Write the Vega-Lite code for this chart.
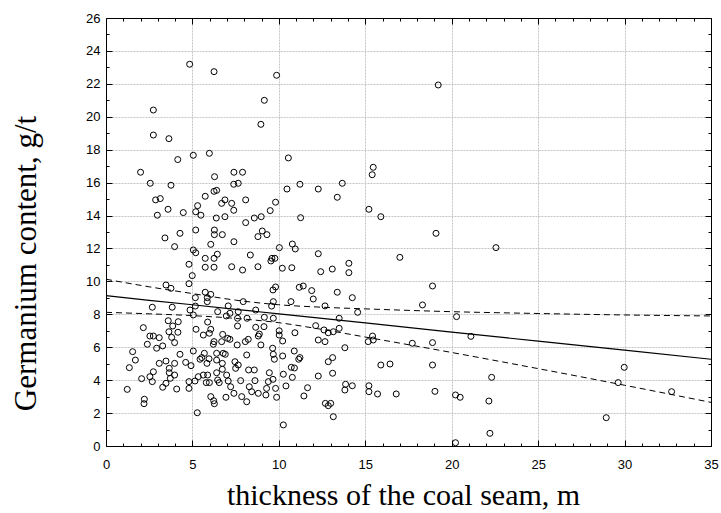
{
 "$schema": "https://vega.github.io/schema/vega-lite/v6.json",
 "width": 605,
 "height": 428,
 "autosize": {"type": "none"},
 "padding": {"left": 106, "top": 18, "right": 10, "bottom": 67},
 "background": "white",
 "config": {"view": {"stroke": null}},
 "datasets": {
  "pts": [
   {"x":4.84,"y":23.19},{"x":6.25,"y":22.74},{"x":9.87,"y":22.52},{"x":2.74,"y":20.41},{"x":9.16,"y":21.0},{"x":8.96,"y":19.54},{"x":2.74,"y":18.89},{"x":3.64,"y":18.67},{"x":4.15,"y":17.4},{"x":5.05,"y":17.66},{"x":5.98,"y":17.78},{"x":10.55,"y":17.5},{"x":19.22,"y":21.93},
   {"x":2.0,"y":16.63},{"x":2.56,"y":15.96},{"x":2.87,"y":14.95},{"x":3.14,"y":15.03},{"x":3.76,"y":15.84},{"x":3.59,"y":14.38},{"x":2.97,"y":14.02},{"x":4.47,"y":14.18},{"x":3.41,"y":12.64},{"x":4.28,"y":12.92},{"x":3.97,"y":12.11},
   {"x":6.28,"y":16.36},{"x":7.4,"y":16.63},{"x":7.9,"y":16.63},{"x":7.39,"y":15.9},{"x":7.65,"y":15.96},{"x":6.25,"y":15.47},{"x":6.4,"y":15.53},{"x":5.74,"y":15.17},{"x":6.88,"y":14.95},{"x":6.69,"y":14.74},{"x":7.27,"y":14.74},{"x":7.39,"y":14.32},{"x":8.08,"y":14.95},{"x":5.3,"y":14.6},{"x":5.19,"y":14.23},{"x":5.49,"y":14.02},{"x":6.38,"y":13.85},{"x":6.88,"y":13.93},{"x":8.08,"y":13.57},{"x":8.58,"y":13.85},{"x":8.98,"y":13.93},{"x":9.5,"y":14.3},{"x":9.81,"y":14.81},{"x":10.47,"y":15.61},
   {"x":5.19,"y":13.12},{"x":6.27,"y":13.12},{"x":6.27,"y":12.84},{"x":6.73,"y":12.84},{"x":6.06,"y":12.25},{"x":7.4,"y":12.41},{"x":8.79,"y":12.72},{"x":9.04,"y":13.06},{"x":9.31,"y":12.84},{"x":10.03,"y":12.05},
   {"x":5.05,"y":11.91},{"x":5.19,"y":11.74},{"x":4.8,"y":11.04},{"x":4.99,"y":10.35},{"x":4.8,"y":9.86},{"x":5.74,"y":11.4},{"x":5.74,"y":10.86},{"x":6.25,"y":11.4},{"x":6.44,"y":11.65},{"x":6.25,"y":10.86},{"x":7.27,"y":10.89},{"x":7.9,"y":10.69},{"x":8.35,"y":11.6},{"x":8.79,"y":10.89},{"x":9.6,"y":11.4},{"x":9.77,"y":11.4},{"x":9.54,"y":11.24},{"x":10.2,"y":10.8},
   {"x":3.47,"y":9.78},{"x":3.76,"y":9.58},{"x":5.74,"y":9.34},{"x":6.06,"y":9.21},{"x":5.86,"y":9.01},{"x":5.17,"y":9.01},{"x":7.94,"y":8.77},{"x":9.81,"y":9.66},{"x":9.66,"y":9.48},{"x":9.68,"y":8.77},{"x":10.7,"y":8.77},
   {"x":2.68,"y":8.43},{"x":3.83,"y":8.43},{"x":4.86,"y":8.26},{"x":5.05,"y":7.96},{"x":5.17,"y":8.5},{"x":5.21,"y":7.09},{"x":6.46,"y":8.16},{"x":6.96,"y":7.9},{"x":7.07,"y":8.51},{"x":7.65,"y":8.16},{"x":7.61,"y":7.76},{"x":7.61,"y":7.29},{"x":7.17,"y":8.06},{"x":8.66,"y":8.26},{"x":8.16,"y":7.76},{"x":9.16,"y":7.82},{"x":9.68,"y":7.76},{"x":9.58,"y":8.5},{"x":5.86,"y":8.77},
   {"x":2.16,"y":7.19},{"x":2.54,"y":6.68},{"x":2.74,"y":6.68},{"x":2.39,"y":6.18},{"x":3.08,"y":6.58},{"x":2.93,"y":5.94},{"x":3.28,"y":6.08},{"x":3.6,"y":7.61},{"x":3.64,"y":6.94},{"x":3.8,"y":6.6},{"x":3.97,"y":6.28},{"x":4.18,"y":7.55},{"x":4.16,"y":6.91},{"x":3.86,"y":7.29},
   {"x":1.54,"y":5.73},{"x":1.7,"y":5.22},{"x":1.35,"y":4.76},{"x":1.23,"y":3.44},{"x":2.06,"y":4.09},{"x":2.22,"y":2.84},{"x":2.2,"y":2.57},{"x":2.54,"y":4.21},{"x":2.74,"y":4.51},{"x":2.68,"y":3.91},{"x":3.08,"y":5.02},{"x":3.28,"y":3.57},{"x":3.47,"y":5.16},{"x":3.47,"y":3.81},{"x":3.66,"y":4.72},{"x":3.66,"y":4.45},{"x":3.72,"y":4.11},{"x":3.97,"y":5.02},{"x":3.97,"y":4.31},{"x":4.09,"y":3.46},{"x":4.28,"y":5.57},{"x":4.61,"y":5.08},{"x":4.8,"y":3.91},{"x":4.8,"y":3.5},{"x":4.92,"y":4.88},{"x":5.05,"y":5.77},{"x":5.15,"y":3.95},{"x":5.28,"y":2.02},{"x":5.44,"y":5.27},{"x":5.34,"y":4.21},{"x":5.54,"y":5.37},{"x":5.63,"y":4.31},{"x":5.69,"y":5.63},{"x":5.8,"y":3.85},{"x":5.88,"y":4.31},{"x":5.96,"y":5.3},{"x":5.98,"y":3.85},{"x":5.84,"y":5.02},{"x":5.63,"y":6.74},{"x":5.88,"y":7.53},{"x":6.06,"y":7.09},{"x":5.98,"y":6.85},{"x":6.25,"y":6.34},{"x":6.21,"y":6.18},{"x":6.4,"y":5.63},{"x":6.4,"y":5.22},{"x":6.4,"y":4.45},{"x":6.06,"y":3.0},{"x":6.23,"y":2.75},{"x":6.27,"y":2.57},{"x":6.46,"y":4.01},{"x":6.55,"y":3.85},{"x":6.69,"y":6.34},{"x":6.75,"y":6.78},{"x":6.78,"y":5.63},{"x":6.9,"y":5.57},{"x":6.73,"y":5.02},{"x":6.73,"y":4.66},{"x":6.98,"y":4.31},{"x":7.07,"y":3.95},{"x":7.21,"y":3.6},{"x":6.94,"y":2.96},{"x":7.04,"y":6.54},{"x":7.17,"y":6.48},{"x":7.4,"y":3.2},{"x":7.46,"y":5.12},{"x":7.5,"y":4.72},{"x":7.59,"y":6.14},{"x":7.65,"y":4.92},{"x":7.79,"y":3.97},{"x":7.85,"y":3.0},{"x":8.06,"y":6.34},{"x":8.14,"y":5.53},{"x":8.25,"y":4.62},{"x":8.23,"y":6.48},{"x":8.14,"y":2.69},{"x":8.29,"y":3.6},{"x":8.43,"y":3.3},{"x":8.58,"y":4.62},{"x":8.62,"y":3.97},{"x":8.66,"y":7.21},{"x":8.81,"y":6.68},{"x":8.87,"y":6.8},{"x":8.81,"y":3.2},{"x":8.96,"y":6.14},{"x":9.14,"y":7.25},{"x":9.25,"y":3.1},{"x":9.29,"y":3.5},{"x":9.39,"y":3.91},{"x":9.45,"y":4.45},{"x":9.64,"y":5.94},{"x":9.68,"y":5.57},{"x":9.74,"y":5.27},{"x":9.66,"y":4.05},{"x":9.81,"y":3.5},{"x":9.87,"y":2.96},{"x":10.02,"y":7.0},{"x":10.02,"y":6.74},{"x":10.22,"y":6.38},{"x":10.22,"y":5.47},{"x":10.26,"y":4.36},{"x":10.26,"y":1.28},{"x":10.41,"y":3.65},
   {"x":15.46,"y":16.93},{"x":15.4,"y":16.48},{"x":11.22,"y":15.9},{"x":12.28,"y":15.61},{"x":13.67,"y":15.96},{"x":13.38,"y":15.11},{"x":15.21,"y":14.38},{"x":15.9,"y":13.93},{"x":11.26,"y":13.87},{"x":19.09,"y":12.92},{"x":10.78,"y":12.27},{"x":10.95,"y":11.97},{"x":12.28,"y":11.68},{"x":17.0,"y":11.46},{"x":10.75,"y":10.83},{"x":12.42,"y":10.59},{"x":13.09,"y":10.75},{"x":14.05,"y":11.1},{"x":14.05,"y":10.53},{"x":11.18,"y":9.64},{"x":11.41,"y":9.72},{"x":11.9,"y":9.44},{"x":11.99,"y":8.93},{"x":13.38,"y":9.34},{"x":14.25,"y":9.01},{"x":12.67,"y":8.51},{"x":18.89,"y":9.72},{"x":18.31,"y":8.57},
   {"x":14.56,"y":8.12},{"x":13.49,"y":7.76},{"x":20.28,"y":7.86},{"x":12.13,"y":7.31},{"x":12.61,"y":7.05},{"x":12.86,"y":6.88},{"x":13.15,"y":6.94},{"x":13.49,"y":7.15},{"x":10.93,"y":6.88},{"x":12.28,"y":6.44},{"x":12.67,"y":6.34},{"x":15.42,"y":6.68},{"x":15.46,"y":6.44},{"x":15.17,"y":6.34},{"x":17.72,"y":6.24},{"x":18.89,"y":6.28},{"x":21.11,"y":6.66},{"x":13.82,"y":5.97},{"x":10.89,"y":5.77},{"x":11.22,"y":5.37},{"x":11.15,"y":5.27},{"x":12.86,"y":5.12},{"x":13.11,"y":5.37},{"x":15.9,"y":4.92},{"x":16.43,"y":4.98},{"x":18.89,"y":4.92},{"x":10.72,"y":4.78},{"x":10.9,"y":4.74},{"x":10.78,"y":4.17},{"x":12.28,"y":4.25},{"x":13.11,"y":4.42},{"x":11.66,"y":3.54},{"x":11.45,"y":3.04},{"x":13.82,"y":3.4},{"x":13.86,"y":3.75},{"x":14.25,"y":3.66},{"x":15.21,"y":3.66},{"x":15.21,"y":3.3},{"x":15.71,"y":3.16},{"x":16.79,"y":3.16},{"x":19.03,"y":3.32},{"x":20.22,"y":3.1},{"x":20.49,"y":2.96},{"x":12.69,"y":2.59},{"x":13.0,"y":2.59},{"x":12.86,"y":2.45},{"x":13.15,"y":1.78},{"x":20.22,"y":0.2},
   {"x":22.56,"y":12.05},{"x":22.31,"y":4.17},{"x":22.15,"y":2.73},{"x":22.21,"y":0.77},{"x":28.94,"y":1.72},{"x":29.63,"y":3.85},{"x":29.98,"y":4.78},{"x":32.72,"y":3.3}
  ],
  "fit": [
   {"x":0,"fit":9.13,"upper":10.13,"lower":8.12},
   {"x":2.5,"fit":8.85,"upper":9.67,"lower":8.03},
   {"x":5,"fit":8.58,"upper":9.26,"lower":7.92},
   {"x":7.5,"fit":8.30,"upper":8.86,"lower":7.75},
   {"x":10,"fit":8.03,"upper":8.58,"lower":7.49},
   {"x":12.5,"fit":7.75,"upper":8.43,"lower":7.08},
   {"x":15,"fit":7.48,"upper":8.33,"lower":6.62},
   {"x":20,"fit":6.92,"upper":8.16,"lower":5.68},
   {"x":25,"fit":6.37,"upper":8.05,"lower":4.70},
   {"x":30,"fit":5.82,"upper":7.96,"lower":3.69},
   {"x":35,"fit":5.27,"upper":7.90,"lower":2.65}
  ]
 },
 "layer": [
  {
   "data": {"name": "pts"},
   "mark": {"type": "point", "shape": "circle", "filled": false, "stroke": "black", "strokeWidth": 1, "size": 36, "opacity": 1},
   "encoding": {
    "x": {"field": "x", "type": "quantitative", "scale": {"domain": [0, 35], "nice": false, "zero": false},
     "axis": {"orient": "bottom", "values": [0,1,2,3,4,5,6,7,8,9,10,11,12,13,14,15,16,17,18,19,20,21,22,23,24,25,26,27,28,29,30,31,32,33,34,35],
      "title": "thickness of the coal seam, m", "titleFont": "Liberation Serif", "titleFontSize": 30, "titleFontWeight": "normal", "titleColor": "black",
      "titleX": 297, "titleY": 58, "titleAlign": "center", "titleBaseline": "alphabetic",
      "labelExpr": "datum.value % 5 === 0 ? datum.label : ''", "labelFont": "Liberation Sans", "labelFontSize": 13, "labelColor": "black",
      "labelPadding": 18, "labelFlush": false, "labelOverlap": false, "labelBound": false,
      "tickSize": {"condition": {"test": "datum.value % 5 === 0", "value": -6}, "value": -3}, "tickColor": "black", "tickWidth": 1,
      "domainColor": "black", "domainWidth": 1,
      "grid": true, "gridColor": "#c4c4c4", "gridDash": [2, 1], "gridWidth": 1,
      "gridOpacity": {"condition": {"test": "datum.value % 5 === 0", "value": 1}, "value": 0}}},
    "y": {"field": "y", "type": "quantitative", "scale": {"domain": [0, 26], "nice": false, "zero": false},
     "axis": {"orient": "left", "values": [0,1,2,3,4,5,6,7,8,9,10,11,12,13,14,15,16,17,18,19,20,21,22,23,24,25,26],
      "title": "Germanium content, g/t", "titleFont": "Liberation Serif", "titleFontSize": 31, "titleFontWeight": "normal", "titleColor": "black",
      "titleX": -71, "titleY": 245, "titleAngle": -90, "titleAlign": "center", "titleBaseline": "alphabetic",
      "labelExpr": "datum.value % 2 === 0 ? datum.label : ''", "labelFont": "Liberation Sans", "labelFontSize": 13, "labelColor": "black",
      "labelPadding": 12, "labelFlush": false, "labelOverlap": false, "labelBound": false,
      "tickSize": {"condition": {"test": "datum.value % 2 === 0", "value": -6}, "value": -3}, "tickColor": "black", "tickWidth": 1,
      "domainColor": "black", "domainWidth": 1,
      "grid": true, "gridColor": "#c4c4c4", "gridDash": [2, 1], "gridWidth": 1,
      "gridOpacity": {"condition": {"test": "datum.value % 2 === 0", "value": 1}, "value": 0}}}
   }
  },
  {
   "data": {"name": "fit"},
   "mark": {"type": "line", "color": "black", "strokeWidth": 1.2},
   "encoding": {
    "x": {"field": "x", "type": "quantitative", "scale": {"domain": [0, 35], "nice": false, "zero": false},
     "axis": {"orient": "top", "values": [0,1,2,3,4,5,6,7,8,9,10,11,12,13,14,15,16,17,18,19,20,21,22,23,24,25,26,27,28,29,30,31,32,33,34,35],
      "title": null, "labels": false, "grid": false,
      "tickSize": {"condition": {"test": "datum.value % 5 === 0", "value": -6}, "value": -3}, "tickColor": "black", "tickWidth": 1,
      "domainColor": "black", "domainWidth": 1}},
    "y": {"field": "fit", "type": "quantitative", "scale": {"domain": [0, 26], "nice": false, "zero": false},
     "axis": {"orient": "right", "values": [0,1,2,3,4,5,6,7,8,9,10,11,12,13,14,15,16,17,18,19,20,21,22,23,24,25,26],
      "title": null, "labels": false, "grid": false,
      "tickSize": {"condition": {"test": "datum.value % 2 === 0", "value": -6}, "value": -3}, "tickColor": "black", "tickWidth": 1,
      "domainColor": "black", "domainWidth": 1}}
   }
  },
  {
   "data": {"name": "fit"},
   "mark": {"type": "line", "color": "black", "strokeWidth": 1, "strokeDash": [6, 4], "interpolate": "monotone"},
   "encoding": {
    "x": {"field": "x", "type": "quantitative", "scale": {"domain": [0, 35], "nice": false, "zero": false}, "axis": null},
    "y": {"field": "upper", "type": "quantitative", "scale": {"domain": [0, 26], "nice": false, "zero": false}, "axis": null}
   }
  },
  {
   "data": {"name": "fit"},
   "mark": {"type": "line", "color": "black", "strokeWidth": 1, "strokeDash": [6, 4], "interpolate": "monotone"},
   "encoding": {
    "x": {"field": "x", "type": "quantitative", "scale": {"domain": [0, 35], "nice": false, "zero": false}, "axis": null},
    "y": {"field": "lower", "type": "quantitative", "scale": {"domain": [0, 26], "nice": false, "zero": false}, "axis": null}
   }
  }
 ],
 "resolve": {"axis": {"x": "independent", "y": "independent"}}
}
